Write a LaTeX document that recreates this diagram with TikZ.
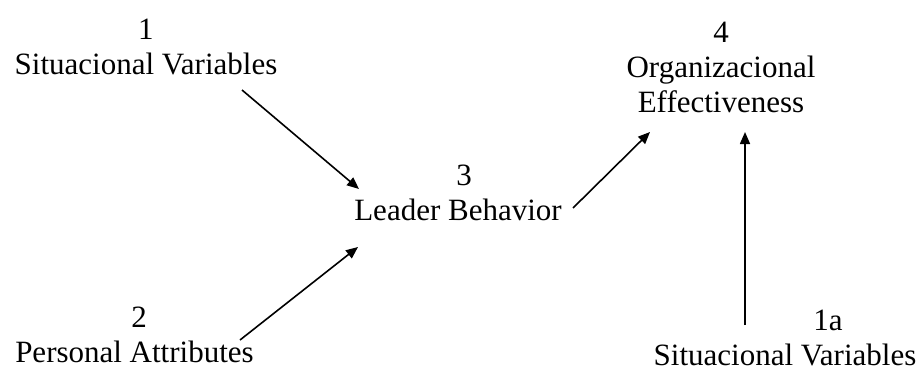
\documentclass[tikz,border=0pt]{standalone}
\usepackage{fontspec}
\setmainfont{Liberation Serif}
\usetikzlibrary{arrows.meta}
\begin{document}
\begin{tikzpicture}[x=1pt,y=-1pt,
  lbl/.style={align=center,inner sep=0pt,anchor=south,font=\fontsize{31}{35}\selectfont},
  conn/.style={line width=1.6pt,-{Triangle[length=12pt,width=10pt]}}]
\useasboundingbox (0,0) rectangle (923,372);
% variables and outcome (each node sits on the baseline of its last line)
\node[lbl] (sv)  at (146,75)   {1\\Situacional Variables};
\node[lbl] (pa)  at (134.5,363) {\hspace*{9pt}2\\Personal Attributes};
\node[lbl] (lb)  at (458,221)  {\hspace*{12pt}3\\Leader Behavior};
\node[lbl] (oe)  at (721,113)  {4\\Organizacional\\Effectiveness};
\node[lbl] (sv2) at (785,366)  {\hspace*{86pt}1a\\Situacional Variables};
% causal links
\draw[conn] ([shift={(96,15)}]sv.south)    -- ([shift={(-99,-32)}]lb.south);
\draw[conn] ([shift={(105.5,-23)}]pa.south) -- ([shift={(-100,26)}]lb.south);
\draw[conn] ([shift={(115,-13)}]lb.south)  -- ([shift={(-71,19)}]oe.south);
\draw[conn] ([shift={(-40,-41)}]sv2.south) -- ([shift={(24,19)}]oe.south);
\end{tikzpicture}
\end{document}
